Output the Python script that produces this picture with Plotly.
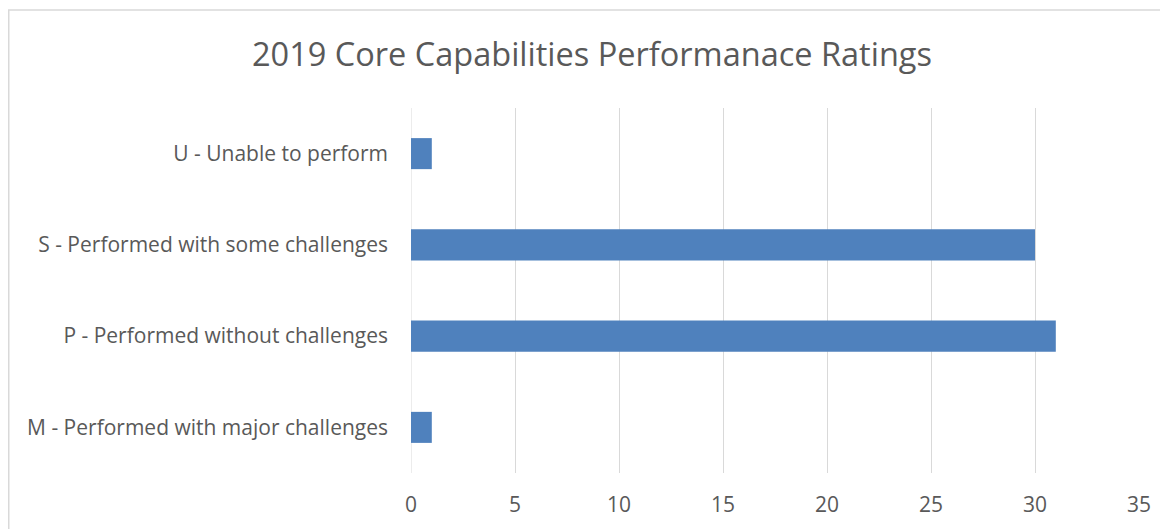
import plotly.graph_objects as go

categories = [
    "M - Performed with major challenges",
    "P - Performed without challenges",
    "S - Performed with some challenges",
    "U - Unable to perform",
]
values = [1, 31, 30, 1]
x_ticks = [0, 5, 10, 15, 20, 25, 30, 35]

OFF = 8  # page body margin
W, H = 1168 - OFF, 529 - OFF
L, R, T, B = 411 - OFF, 1139 - OFF, 108 - OFF, 473 - OFF

font_family = "'Open Sans', sans-serif"
text_color = "#595959"
grid_color = "#D9D9D9"

fig = go.Figure(
    go.Bar(
        y=categories,
        x=values,
        orientation="h",
        marker=dict(color="#4F81BD", line=dict(width=0)),
        width=0.34,
    )
)

pw, ph = R - L, B - T
def px_x(px):
    return (px - OFF - L) / pw
def px_y(py):
    return (B - (py - OFF)) / ph

fig.add_shape(
    type="rect", xref="paper", yref="paper",
    x0=px_x(OFF + 0.75), x1=px_x(1200), y0=px_y(560), y1=px_y(10),
    line=dict(color=grid_color, width=1.5), fillcolor="rgba(0,0,0,0)", layer="below",
)

fig.update_layout(
    width=W, height=H,
    margin=dict(l=L, r=W - R, t=T, b=H - B, pad=0),
    paper_bgcolor="white", plot_bgcolor="white",
    showlegend=False,
    font=dict(family=font_family, color=text_color, size=21),
    title=dict(
        text="2019 Core Capabilities Performanace Ratings",
        x=(592 - OFF) / W, xanchor="center", xref="container",
        y=1 - (55 - OFF) / H, yanchor="middle", yref="container",
        font=dict(size=32.5, color=text_color, family=font_family),
    ),
    xaxis=dict(
        range=[0, 35], tickvals=x_ticks, ticktext=[str(v) for v in x_ticks],
        showgrid=True, gridcolor=grid_color, gridwidth=1,
        zeroline=False, showline=False, ticks="", ticklabelstandoff=17,
        tickfont=dict(size=21, color=text_color),
    ),
    yaxis=dict(
        categoryorder="array", categoryarray=categories,
        showgrid=False, zeroline=False, showline=False, ticks="",
        ticklabelstandoff=22,
        tickfont=dict(size=21, color=text_color),
    ),
    bargap=0.66,
)

fig.add_shape(
    type="line", xref="x", yref="paper", x0=0, x1=0, y0=0, y1=1,
    line=dict(color=grid_color, width=1), layer="below",
)

fig.write_html("out.html")
